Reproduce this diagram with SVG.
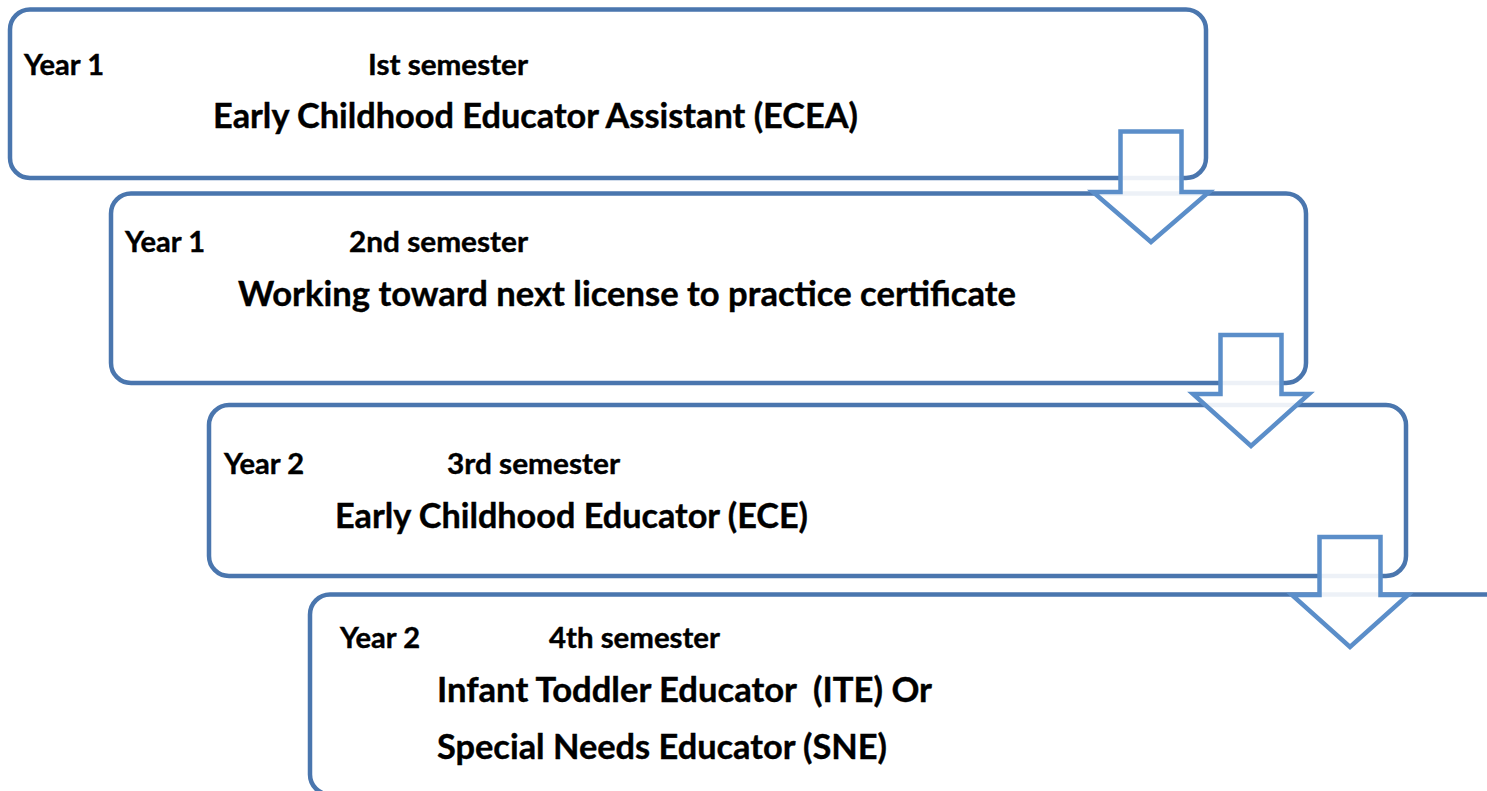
<svg xmlns="http://www.w3.org/2000/svg" width="1487" height="791" viewBox="0 0 1487 791">
<style>
.box{fill:#ffffff;stroke:#4a76ae;stroke-width:4.5}
.arr{fill:#ffffff;fill-opacity:0.9;stroke:#5b8ec9;stroke-width:4.5;stroke-linejoin:miter}
text{font-family:Lato,"Liberation Sans",sans-serif;font-weight:bold;fill:#000000;stroke:#000000;stroke-width:0.4}
.s{font-size:28.5px}
.b{font-size:34.5px}
</style>
<rect width="1487" height="791" fill="#ffffff"/>
<g id="node1">
<rect class="box" x="10" y="9.5" width="1196" height="168.5" rx="20"/>
<text class="s" x="24" y="75" textLength="80" lengthAdjust="spacingAndGlyphs">Year 1</text>
<text class="s" x="368" y="75" textLength="160" lengthAdjust="spacingAndGlyphs">Ist semester</text>
<text class="b" x="213" y="128" textLength="645" lengthAdjust="spacingAndGlyphs">Early Childhood Educator Assistant (ECEA)</text>
</g>
<g id="node2">
<rect class="box" x="111" y="193.5" width="1195" height="189.5" rx="20"/>
<text class="s" x="125" y="252" textLength="80" lengthAdjust="spacingAndGlyphs">Year 1</text>
<text class="s" x="349" y="252" textLength="179" lengthAdjust="spacingAndGlyphs">2nd semester</text>
<text class="b" x="238" y="306" textLength="778" lengthAdjust="spacingAndGlyphs">Working toward next license to practice certificate</text>
</g>
<g id="node3">
<rect class="box" x="209" y="405" width="1197" height="171" rx="20"/>
<text class="s" x="224" y="474" textLength="80" lengthAdjust="spacingAndGlyphs">Year 2</text>
<text class="s" x="447" y="474" textLength="173" lengthAdjust="spacingAndGlyphs">3rd semester</text>
<text class="b" x="335" y="528" textLength="473" lengthAdjust="spacingAndGlyphs">Early Childhood Educator (ECE)</text>
</g>
<g id="node4">
<rect class="box" x="310" y="594.5" width="1300" height="200" rx="20"/>
<text class="s" x="340" y="648" textLength="80" lengthAdjust="spacingAndGlyphs">Year 2</text>
<text class="s" x="549" y="648" textLength="171" lengthAdjust="spacingAndGlyphs">4th semester</text>
<text class="b" x="437" y="702" textLength="495" lengthAdjust="spacingAndGlyphs" xml:space="preserve">Infant Toddler Educator  (ITE) Or</text>
<text class="b" x="437" y="759" textLength="450" lengthAdjust="spacingAndGlyphs">Special Needs Educator (SNE)</text>
</g>
<g id="connectors">
<polygon class="arr" points="1120.5,131.5 1181.5,131.5 1181.5,192 1209,192 1151,242 1093,192 1120.5,192"/>
<polygon class="arr" points="1220.5,335 1281.5,335 1281.5,394 1309,394 1251,446 1193,394 1220.5,394"/>
<polygon class="arr" points="1319.5,537 1380.5,537 1380.5,595 1408,595 1350,647 1292,595 1319.5,595"/>
</g>
</svg>
